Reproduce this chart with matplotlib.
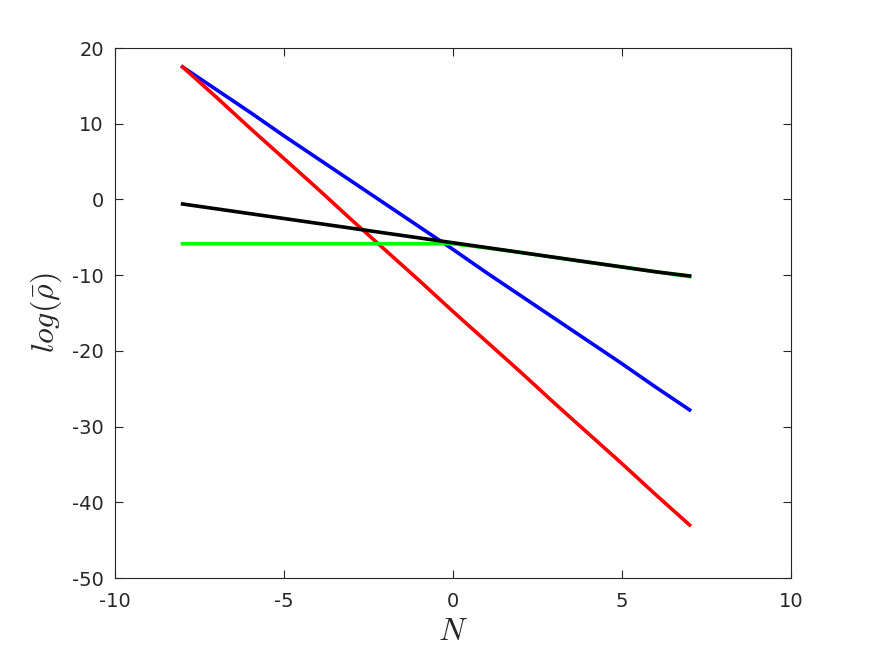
import numpy as np
import matplotlib
matplotlib.use("Agg")
import matplotlib.pyplot as plt

plt.rcParams['mathtext.fontset'] = 'cm'
plt.rcParams['axes.unicode_minus'] = False

# data
N = np.arange(-8, 8)
rho_blue = [17.5, 14.5, 11.5, 8.4, 5.4, 2.4, -0.6, -3.6,
            -6.6, -9.7, -12.7, -15.7, -18.7, -21.7, -24.8, -27.8]
rho_red = [17.5, 13.5, 9.4, 5.4, 1.4, -2.7, -6.7, -10.7,
           -14.8, -18.8, -22.8, -26.9, -30.9, -34.9, -39.0, -43.0]
rho_green = [-5.85, -5.85, -5.85, -5.85, -5.85, -5.85, -5.85, -5.85,
             -5.85, -6.4, -7.0, -7.65, -8.3, -8.9, -9.55, -10.2]
rho_black = [-0.6, -1.24, -1.88, -2.52, -3.16, -3.8, -4.44, -5.08,
             -5.72, -6.36, -7.0, -7.64, -8.28, -8.92, -9.56, -10.1]

fig = plt.figure(figsize=(8.75, 6.56), dpi=100)
ax = fig.add_axes([0.1314, 0.1189, 0.7726, 0.8079])

lw = 2.6
ax.plot(N, rho_blue, color=(0, 0, 1), lw=lw)
ax.plot(N, rho_red, color=(1, 0, 0), lw=lw)
ax.plot(N, rho_green, color=(0, 1, 0), lw=lw)
ax.plot(N, rho_black, color=(0, 0, 0), lw=lw)

ax.set_xlim(-10, 10)
ax.set_ylim(-50, 20)
ax.set_xticks(np.arange(-10, 11, 5))
ax.set_yticks(np.arange(-50, 21, 10))

gray = (0.15, 0.15, 0.15)
for s in ax.spines.values():
    s.set_color(gray)
    s.set_linewidth(0.8)
ax.tick_params(direction='in', top=True, right=True, length=6,
               labelsize=14, colors=gray)
ax.tick_params(axis='x', pad=10)
ax.tick_params(axis='y', pad=8)

ax.set_xlabel(r'$N$', fontsize=23, color=gray, labelpad=4)
ax.set_ylabel(r'$log(\bar{\rho})$', fontsize=23, color=gray, labelpad=6)

fig.savefig('out.png', dpi=100)
